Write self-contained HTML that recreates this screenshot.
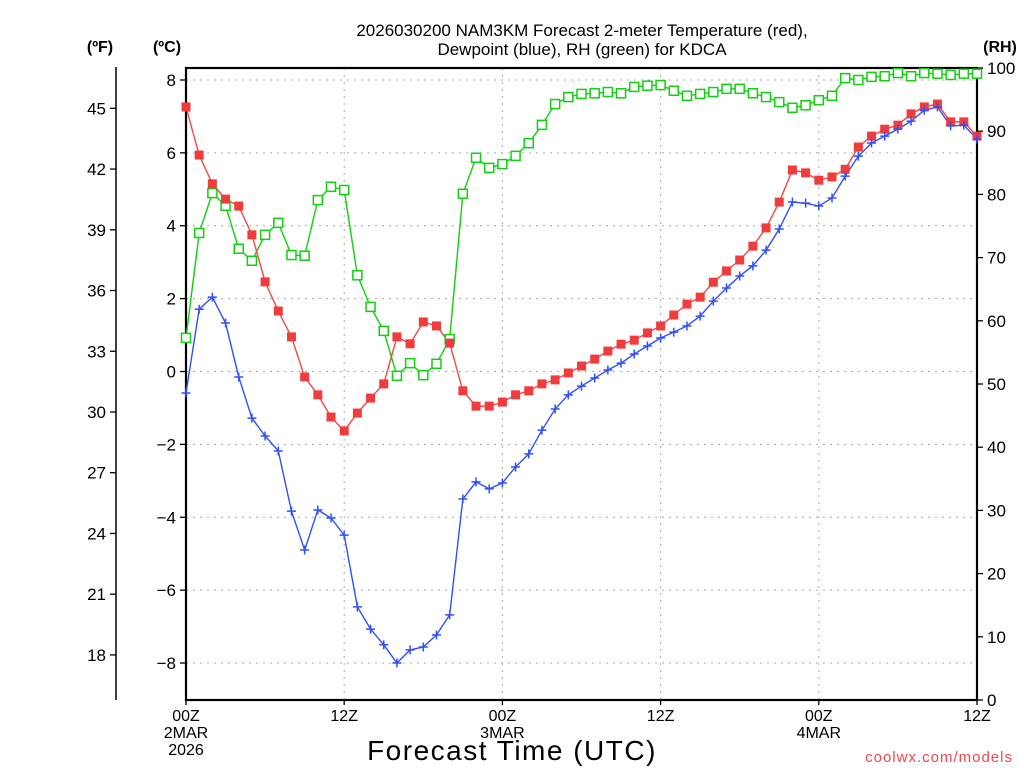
<!DOCTYPE html>
<html><head><meta charset="utf-8">
<style>
html,body{margin:0;padding:0;background:#fff;}
svg{display:block;font-family:"Liberation Sans","DejaVu Sans",sans-serif;}
</style></head>
<body>
<svg id="chart" width="1024" height="768" viewBox="0 0 1024 768">
<text x="582" y="36" text-anchor="middle" font-size="17">2026030200 NAM3KM Forecast 2-meter Temperature (red),</text>
<text x="582" y="55" text-anchor="middle" font-size="17">Dewpoint (blue), RH (green) for KDCA</text>
<text x="100" y="52" text-anchor="middle" font-size="16" font-weight="bold">(ºF)</text>
<text x="167" y="52" text-anchor="middle" font-size="16" font-weight="bold">(ºC)</text>
<text x="1000" y="52" text-anchor="middle" font-size="16" font-weight="bold">(RH)</text>
<text x="512" y="760" text-anchor="middle" font-size="28" letter-spacing="1.5">Forecast Time (UTC)</text>
<text x="1013" y="762" text-anchor="end" font-size="15" fill="#f04848" letter-spacing="1">coolwx.com/models</text>
<g id="grid"></g><g id="axes"></g><g id="series"></g>
</svg>
<script>
const hours = Array.from({length:61},(_,i)=>i);
const tempC = [7.26,5.94,5.15,4.73,4.54,3.75,2.46,1.66,0.95,-0.15,-0.64,-1.25,-1.63,-1.14,-0.73,-0.34,0.95,0.76,1.36,1.25,0.78,-0.53,-0.95,-0.95,-0.84,-0.64,-0.53,-0.34,-0.23,-0.04,0.15,0.34,0.56,0.75,0.86,1.06,1.25,1.55,1.85,2.04,2.45,2.76,3.06,3.44,3.94,4.65,5.53,5.45,5.25,5.34,5.55,6.16,6.46,6.65,6.76,7.07,7.26,7.34,6.85,6.85,6.46];
const dewC = [-0.59,1.71,2.04,1.33,-0.15,-1.28,-1.77,-2.18,-3.83,-4.90,-3.80,-4.02,-4.49,-6.46,-7.07,-7.50,-8.0,-7.64,-7.56,-7.23,-6.68,-3.50,-3.03,-3.22,-3.06,-2.62,-2.26,-1.61,-1.03,-0.64,-0.40,-0.18,0.04,0.23,0.48,0.70,0.92,1.08,1.25,1.52,1.93,2.29,2.62,2.90,3.33,3.91,4.65,4.62,4.54,4.76,5.36,5.91,6.27,6.46,6.65,6.87,7.17,7.26,6.74,6.76,6.38];
const rh = [57.3,73.9,80.2,78.2,71.4,69.5,73.6,75.5,70.4,70.3,79.1,81.2,80.7,67.2,62.2,58.4,51.3,53.3,51.4,53.2,57.1,80.1,85.8,84.2,84.8,86.1,88.1,91.0,94.3,95.4,95.9,96.0,96.2,96.0,97.0,97.2,97.3,96.4,95.6,95.9,96.2,96.7,96.7,96.0,95.4,94.6,93.7,94.1,94.9,95.6,98.4,98.1,98.6,98.7,99.2,98.7,99.2,99.1,98.9,99.1,99.1];
const cTicks = [8,6,4,2,0,-2,-4,-6,-8];
const cTickLabels = ["8","6","4","2","0","\u22122","\u22124","\u22126","\u22128"];
const fTicks = [45,42,39,36,33,30,27,24,21,18];
const rhTicks = [100,90,80,70,60,50,40,30,20,10,0];
const xTickHours = [0,12,24,36,48,60];
const xTickLabels = [["00Z","2MAR","2026"],["12Z"],["00Z","3MAR"],["12Z"],["00Z","4MAR"],["12Z"]];

const L=186,R=977,T=68,B=700;
const xs = h => L + h*(R-L)/60;
const yC = c => 371.5 - c*36.44;
const yRH = v => B - v*(B-T)/100;
const yF = f => yC((f-32)*5/9);
const NS="http://www.w3.org/2000/svg";
function mk(tag, attrs, parent){const e=document.createElementNS(NS,tag);for(const k in attrs)e.setAttribute(k,attrs[k]);parent.appendChild(e);return e;}
const grid=document.getElementById('grid'),axes=document.getElementById('axes'),ser=document.getElementById('series');

cTicks.forEach((c,i)=>{
  const g=mk('line',{x1:L,x2:R,y1:yC(c),y2:yC(c),stroke:'#aaa','stroke-dasharray':'2,5','stroke-width':1},grid);
  
  
  mk('line',{x1:L-6,x2:L,y1:yC(c),y2:yC(c),stroke:'#000','stroke-width':1.3},axes);
  const t=mk('text',{x:L-10,y:yC(c)+6,'text-anchor':'end','font-size':17},axes);
  t.textContent=cTickLabels[i];
  
  
});
xTickHours.forEach((h,i)=>{
  if(h>0&&h<60){const g=mk('line',{x1:xs(h),x2:xs(h),y1:T,y2:B,stroke:'#aaa','stroke-dasharray':'2,5','stroke-width':1},grid);
  
  }
  mk('line',{x1:xs(h),x2:xs(h),y1:B,y2:B+5,stroke:'#000','stroke-width':1.3},axes);
  xTickLabels[i].forEach((s,j)=>{
    const t=mk('text',{x:xs(h),y:B+21+j*17,'text-anchor':'middle','font-size':16},axes);
    t.textContent=s;
    
    
  });
});
const fl=mk('line',{x1:116,x2:116,y1:67,y2:B,stroke:'#000','stroke-width':1.5},axes);


fTicks.forEach(f=>{
  mk('line',{x1:110,x2:116,y1:yF(f),y2:yF(f),stroke:'#000','stroke-width':1.3},axes);
  const t=mk('text',{x:106,y:yF(f)+6,'text-anchor':'end','font-size':17},axes);
  t.textContent=f;
  
  
});
rhTicks.forEach(v=>{
  mk('line',{x1:R,x2:R+6,y1:yRH(v),y2:yRH(v),stroke:'#000','stroke-width':1.3},axes);
  const t=mk('text',{x:R+10,y:yRH(v)+6,'font-size':17},axes);
  t.textContent=v;
  
  
});
const fr=mk('rect',{x:L,y:T,width:R-L,height:B-T,fill:'none',stroke:'#000','stroke-width':2.2},axes);



function line(vals,yf,color,name){
  const p=mk('polyline',{points:vals.map((v,i)=>xs(hours[i])+','+yf(v)).join(' '),fill:'none',stroke:color,'stroke-width':1.4},ser);
  
  
}
line(rh,yRH,'#10d010','rh-line');
line(tempC,yC,'#f04848','temperature-line');
line(dewC,yC,'#3050f8','dewpoint-line');
rh.forEach((v,i)=>{
  const m=mk('rect',{x:xs(hours[i])-4.5,y:yRH(v)-4.5,width:9,height:9,fill:'#fff',stroke:'#10d010','stroke-width':1.5},ser);
  
  
});
tempC.forEach((v,i)=>{
  const m=mk('rect',{x:xs(hours[i])-4.5,y:yC(v)-4.5,width:9,height:9,fill:'#f03c3c'},ser);
  
  
});
dewC.forEach((v,i)=>{
  const x=xs(hours[i]),y=yC(v);
  const m=mk('path',{d:`M${x-4.5},${y}H${x+4.5}M${x},${y-4.5}V${y+4.5}`,stroke:'#3050f8','stroke-width':1.5},ser);
  
  
});
</script>
</body></html>
